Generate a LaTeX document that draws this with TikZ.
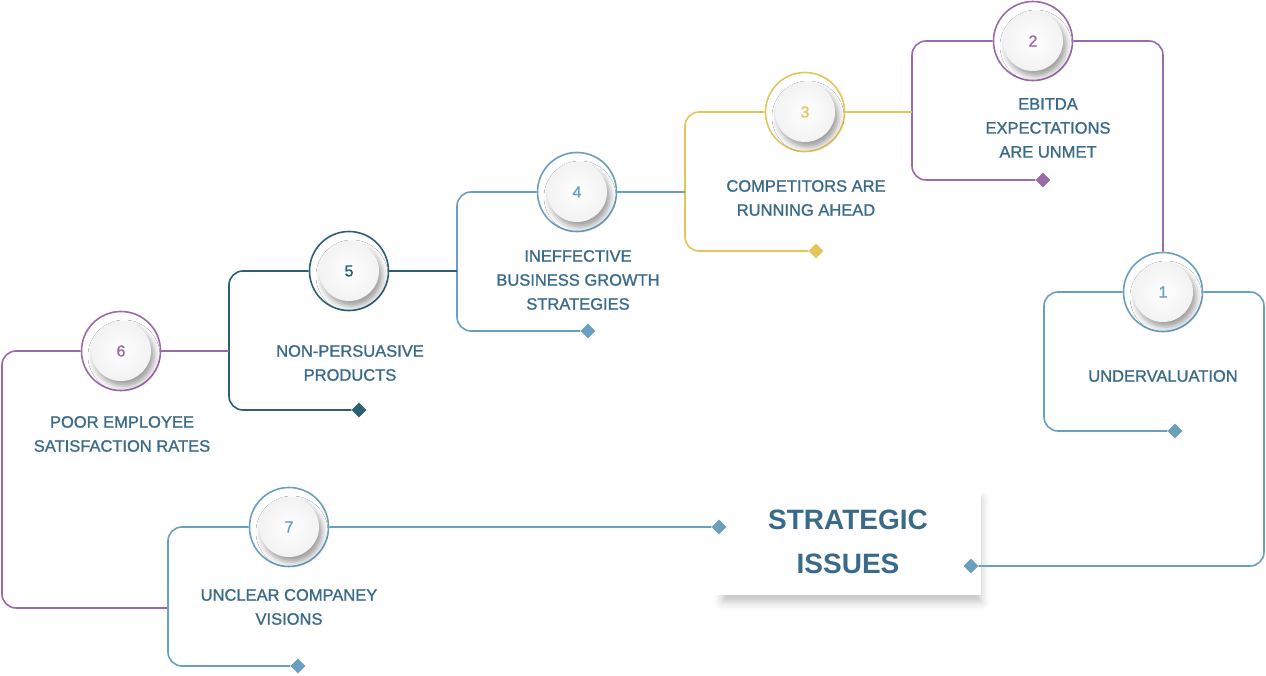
\documentclass[tikz,border=0pt]{standalone}
\usepackage{fontspec}
\setmainfont{Liberation Sans}
\newfontfamily\medfont{Liberation Sans}[FakeBold=1.1]
\usetikzlibrary{positioning, shadows.blur}

\definecolor{cblue}{HTML}{6A9FBD}
\definecolor{cdark}{HTML}{2D5E73}
\definecolor{cpurple}{HTML}{9C6AA9}
\definecolor{cyellow}{HTML}{E3C65B}
\definecolor{ctext}{HTML}{3A6A8A}

\tikzset{
	ring/.style={circle, draw=#1, line width=1.6pt, fill=white, minimum size=79pt, inner sep=0pt},
	knob/.style={circle, minimum size=60pt, inner sep=0pt, inner color=white, outer color=gray!10,
		blur shadow={shadow xshift=3pt, shadow yshift=-5pt, shadow blur radius=6pt, shadow opacity=40}},
	tip/.style={rectangle, rotate=45, fill=#1, minimum size=10.5pt, inner sep=0pt},
	link/.style={draw=#1, line width=1.6pt, rounded corners=14pt},
	caption/.style={text=ctext, font=\medfont\fontsize{16.5}{24}\selectfont, align=center},
}

\begin{document}
\begin{tikzpicture}[x=1pt, y=-1pt]
	\useasboundingbox (0,0) rectangle (1266,676);

	% centre box
	\node[fill=white, minimum width=266pt, minimum height=105pt, text=ctext,
		font=\fontsize{28}{44}\selectfont\bfseries, align=center,
		blur shadow={shadow scale=0.97, shadow xshift=4pt, shadow yshift=-9pt, shadow blur radius=9pt, shadow opacity=25}]
		(issues) at (848,542) {STRATEGIC\\ISSUES};

	% numbered circles
	\foreach \n/\x/\y/\c in {1/1163/292/cblue, 2/1033/41/cpurple, 3/805/112/cyellow,
		4/577/192/cblue, 5/349/271/cdark, 6/121/351/cpurple, 7/289/527/cblue}{
		\node[ring=\c] (s\n) at (\x,\y) {};
		\node[knob, text=\c, font=\medfont\fontsize{16}{16}\selectfont] at (s\n) {\n};
	}

	% corners and diamonds
	\coordinate (b1) at (1044,431);
	\coordinate (b2) at (912,180);
	\coordinate (b3) at (685,251);
	\coordinate (b4) at (457,331);
	\coordinate (b5) at (229,410);
	\coordinate (b6) at (2,608);
	\coordinate (b7) at (168,666);
	\coordinate (r1) at (1264,566);

	\node[tip=cblue] (d1) at (1175,431) {};
	\node[tip=cpurple] (d2) at (1043,180) {};
	\node[tip=cyellow] (d3) at (816,251) {};
	\node[tip=cblue] (d4) at (588,331) {};
	\node[tip=cdark] (d5) at (359,410) {};
	\node[tip=cblue] (d7) at (298,666) {};
	\node[tip=cblue] (d0) at (971,566) {};
	\node[tip=cblue] (dc) at (719,527) {};

	% brackets
	\path[link=cblue] (s1.west) -| (b1) -- (d1);
	\path[link=cblue] (s1.east) -| (r1) -- (d0);
	\path[link=cpurple] (s2.west) -| (b2) -- (d2);
	\path[link=cpurple] (s2.east) -| (s1.north);
	\path[link=cyellow] (s3.west) -| (b3) -- (d3);
	\path[link=cyellow] (s3.east) -- (s3.east -| b2);
	\path[link=cblue] (s4.west) -| (b4) -- (d4);
	\path[link=cblue] (s4.east) -- (s4.east -| b3);
	\path[link=cdark] (s5.west) -| (b5) -- (d5);
	\path[link=cdark] (s5.east) -- (s5.east -| b4);
	\path[link=cpurple] (s6.west) -| (b6) -- (b6 -| b7);
	\path[link=cpurple] (s6.east) -- (s6.east -| b5);
	\path[link=cblue] (s7.west) -| (b7) -- (d7);
	\path[link=cblue] (s7.east) -- (dc);

	% captions
	\node[caption] (t1) at (1163,376) {UNDERVALUATION};
	\node[caption] (t2) at (1048,128) {EBITDA\\EXPECTATIONS\\ARE UNMET};
	\node[caption] (t3) at (806,198) {COMPETITORS ARE\\RUNNING AHEAD};
	\node[caption] (t4) at (578,280) {INEFFECTIVE\\BUSINESS GROWTH\\STRATEGIES};
	\node[caption] (t5) at (350,363) {NON-PERSUASIVE\\PRODUCTS};
	\node[caption] (t6) at (122,434) {POOR EMPLOYEE\\SATISFACTION RATES};
	\node[caption] (t7) at (289,607) {UNCLEAR COMPANEY\\VISIONS};
\end{tikzpicture}
\end{document}
